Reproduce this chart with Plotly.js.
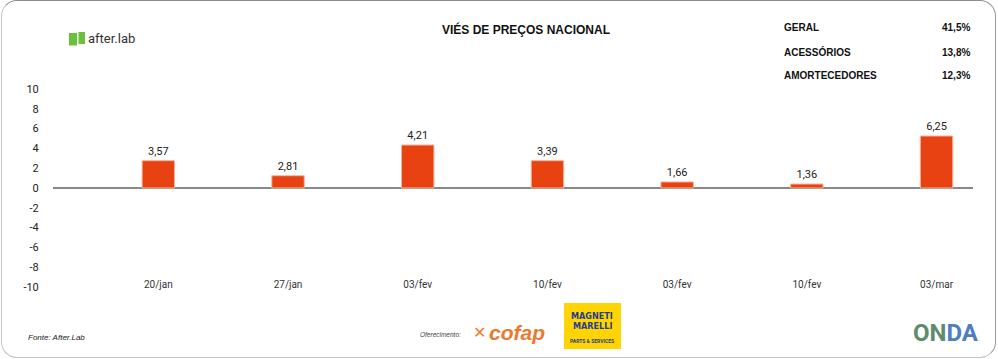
<!DOCTYPE html>
<html><head><meta charset="utf-8">
<script src="https://cdn.plot.ly/plotly-3.0.1.min.js"></script>
<style>
html,body{margin:0;padding:0;background:#fff;}
#wrap{position:relative;width:998px;height:359px;}
#chart{position:absolute;left:0;top:0;width:998px;height:359px;}
#frame{position:absolute;left:1px;top:0px;width:995px;height:358px;box-sizing:border-box;border:1.5px solid;border-color:#8c8c8c #9a9a9a #c4c4c4 #c4c4c4;border-radius:16px;pointer-events:none;}
</style></head>
<body><div id="wrap"><div id="chart"></div><div id="frame"></div></div>
<script>
const categories = ['20/jan','27/jan','03/fev','10/fev','03/fev','10/fev','03/mar'];
const barValues = [2.76, 1.24, 4.34, 2.76, 0.61, 0.40, 5.25];
const labelValues = [3.57, 2.81, 4.21, 3.39, 1.66, 1.36, 6.25];
const yTickVals = [10, 8, 6, 4, 2, 0, -2, -4, -6, -8, -10];
const yTickText = ['10','8','6','4','2','0','-2','-4','-6','-8','-10'];
const summaryNames = ['GERAL','ACESSÓRIOS','AMORTECEDORES'];
const summaryValues = ['41,5%','13,8%','12,3%'];
const chartTitle = 'VIÉS DE PREÇOS NACIONAL';
const sourceText = 'Fonte: After.Lab';

const W = 998, H = 359, M = {l:53, r:25, t:89, b:72};
const PW = W - M.l - M.r, PH = H - M.t - M.b;
const px = p => (p - M.l) / PW;
const py = p => (H - M.b - p) / PH;

const xIdx = categories.map((_, i) => i);
const fmt = v => v.toFixed(2).replace('.', ',');

const trace = {
  type: 'bar', x: xIdx, y: barValues, width: 0.25,
  marker: {color: '#E84212', line: {color: '#F7B49C', width: 1}},
  text: labelValues.map(fmt), textposition: 'outside', cliponaxis: false,
  textfont: {family: 'Roboto, sans-serif', size: 11, color: '#222'},
  hoverinfo: 'skip'
};

const ann = [];
const A = (o) => ann.push(Object.assign({xref:'paper', yref:'paper', showarrow:false, xanchor:'center', yanchor:'middle'}, o));
A({x: px(526), y: py(30), text: '<b>' + chartTitle + '</b>', font:{family:'Liberation Sans, Arial, sans-serif', size:12, color:'#111'}});
const rowsY = [27, 52, 76];
summaryNames.forEach((n, i) => {
  A({x: px(782), y: py(rowsY[i]), xanchor:'left', text: '<b>' + n + '</b>', font:{family:'Liberation Sans, Arial, sans-serif', size:10, color:'#111'}});
  A({x: px(972), y: py(rowsY[i]), xanchor:'right', text: '<b>' + summaryValues[i] + '</b>', font:{family:'Liberation Sans, Arial, sans-serif', size:10, color:'#111'}});
});
A({x: px(86), y: py(38), xanchor:'left', text: 'after.lab', font:{family:'Roboto, sans-serif', size:13, color:'#333'}});
A({x: px(26), y: py(337), xanchor:'left', text: '<i>' + sourceText + '</i>', font:{family:'Liberation Sans, Arial, sans-serif', size:8, color:'#222'}});
A({x: px(463), y: py(334), xanchor:'right', text: '<i>Oferecimento:</i>', font:{family:'Liberation Sans, Arial, sans-serif', size:6.5, color:'#444'}});
A({x: px(487), y: py(332), xanchor:'left', text: '<b><i>cofap</i></b>', font:{family:'Liberation Sans, Arial, sans-serif', size:21, color:'#EC7A2E'}});
A({x: px(471), y: py(332), xanchor:'left', text: '<b>✕</b>', font:{family:'DejaVu Sans, sans-serif', size:16, color:'#EC7A2E'}});
A({x: px(592), y: py(316), text: '<b>MAGNETI</b>', font:{family:'DejaVu Sans Condensed, Roboto, sans-serif', size:9, color:'#243F8E'}});
A({x: px(592), y: py(326), text: '<b>MARELLI</b>', font:{family:'DejaVu Sans Condensed, Roboto, sans-serif', size:9, color:'#243F8E'}});
A({x: px(592), y: py(341), text: '<b>PARTS & SERVICES</b>', font:{family:'Roboto, sans-serif', size:5, color:'#243F8E'}});
A({x: px(946), y: py(333), text: '<b><span style="color:#5E8C6A">ON</span><span style="color:#4E7EC0">DA</span></b>', font:{family:'Roboto, sans-serif', size:24, color:'#5E8C6A'}});

const shapes = [
  {type:'rect', xref:'paper', yref:'paper', x0:px(564), x1:px(621), y0:py(349), y1:py(303), fillcolor:'#FFD400', line:{width:0}, layer:'below'},
  {type:'rect', xref:'paper', yref:'paper', x0:px(69), x1:px(77), y0:py(45.5), y1:py(33), fillcolor:'#6ABF3B', line:{width:0}},
  {type:'rect', xref:'paper', yref:'paper', x0:px(78.5), x1:px(85), y0:py(44), y1:py(32), fillcolor:'#6ABF3B', line:{width:0}}
];

const layout = {
  width: W, height: H, margin: M,
  paper_bgcolor: 'rgba(0,0,0,0)', plot_bgcolor: 'rgba(0,0,0,0)',
  showlegend: false, bargap: 0,
  font: {family: 'Roboto, sans-serif', color: '#222'},
  xaxis: {
    range: [-0.812, 6.281], tickvals: xIdx, ticktext: categories,
    anchor: 'free', position: 0.05, showline: false, showgrid: false, zeroline: false,
    ticks: '', tickfont: {family: 'Roboto, sans-serif', size: 10, color: '#333'}, fixedrange: true
  },
  yaxis: {
    range: [-10, 10], tickvals: yTickVals, ticktext: yTickText,
    showgrid: false, showline: false, zeroline: true, zerolinecolor: '#888', zerolinewidth: 1.2,
    ticks: 'outside', ticklen: 11, tickcolor: 'rgba(0,0,0,0)',
    tickfont: {family: 'Roboto, sans-serif', size: 11, color: '#222'}, fixedrange: true
  },
  annotations: ann, shapes: shapes
};
Plotly.newPlot('chart', [trace], layout, {displayModeBar: false, staticPlot: true});
</script></body></html>
